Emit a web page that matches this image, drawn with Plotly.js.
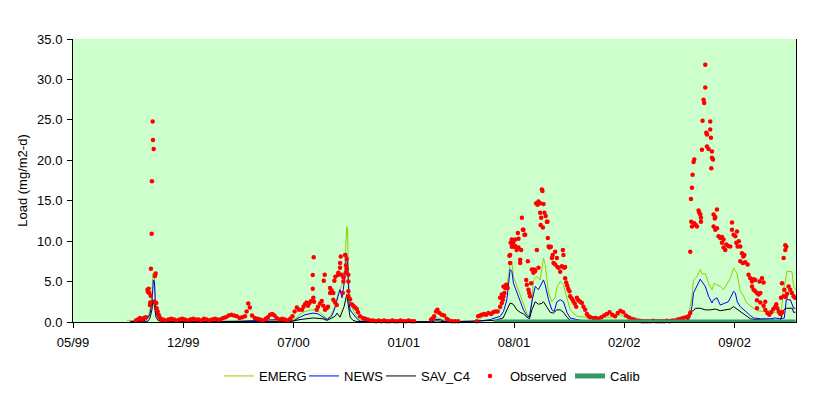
<!DOCTYPE html>
<html>
<head>
<meta charset="utf-8">
<script src="https://cdn.plot.ly/plotly-3.0.1.min.js"></script>
<style>html,body{margin:0;padding:0;background:#fff;}#chart{width:829px;height:396px;}</style>
</head>
<body>
<div id="chart"></div>
<script>
// Day offsets are counted from this date
const startDate = '1999-05-25';
const tickDays = [0, 202, 404, 606, 808, 1010, 1212];
const axisEndDay = 1324.5;

// [day, load mg/m2-d]
const emerg = [[98.8,0.2],[113.5,0.15],[131.8,0.3],[137.3,0.6],[141.0,1.5],[144.6,3.5],[146.4,6.0],[149.2,5.5],[151.0,2.5],[153.8,1.2],[157.4,0.5],[162.9,0.2],[177.6,0.05],[232.6,0.05],[305.9,0.1],[342.6,0.2],[360.9,0.25],[379.3,0.15],[397.6,0.2],
[403.1,0.3],[410.4,0.5],[415.9,1.0],[425.1,1.3],[436.1,1.5],[447.1,1.5],[456.2,1.0],[465.4,0.4],[472.7,0.8],[480.1,2.0],[485.6,3.5],[489.2,4.2],[492.9,4.7],[496.6,5.0],[499.3,8.0],[501.5,11.8],[503.0,11.5],[504.8,5.0],[507.6,2.75],[511.2,1.8],[516.7,1.0],[522.2,0.5],[529.5,0.2],[544.2,0.1],[599.2,0.05],[650.5,0.05],[659.7,0.4],[668.9,0.5],[678.0,0.3],[687.2,0.05],[727.5,0.05],
[742.2,0.1],[751.3,0.7],[767.8,1.1],[777.0,1.3],[782.5,1.5],[786.2,2.2],[789.8,3.0],[794.8,4.4],[800.8,7.1],[803.9,7.5],[806.9,5.6],[813.1,4.4],[819.2,3.2],[825.2,2.2],[831.4,1.1],[836.2,0.7],[840.6,2.5],[843.5,5.2],[849.8,5.6],[855.8,5.2],[858.9,6.5],[861.9,7.9],[865.0,7.1],[868.1,5.2],[871.0,3.6],[877.3,2.5],[883.3,3.0],[887.0,4.4],[892.5,5.0],[898.5,4.6],[904.8,3.0],[910.8,1.5],[923.1,0.7],[941.4,0.6],[965.8,0.6],[984.2,0.6],[993.3,0.6],[1002.5,0.9],[1011.6,0.6],[1030.0,0.3],[1057.5,0.1],[1112.4,0.05],[1124.7,0.1],
[1130.8,1.9],[1133.9,3.2],[1136.8,5.2],[1140.0,5.4],[1143.0,5.6],[1149.1,6.5],[1152.8,5.9],[1158.3,6.0],[1164.3,4.8],[1170.5,4.0],[1174.8,4.8],[1179.7,4.6],[1185.8,4.4],[1191.8,4.0],[1196.8,4.6],[1204.1,5.4],[1210.1,6.7],[1216.4,6.0],[1222.4,3.8],[1228.5,3.2],[1233.4,2.4],[1243.9,1.9],[1253.0,1.4],[1264.6,1.3],[1277.4,1.4],[1286.6,1.2],[1292.7,1.0],[1297.6,1.2],[1301.3,4.0],[1304.9,5.0],[1308.0,6.3],[1317.2,6.2],[1320.1,4.4],[1323.3,4.0]];

const news = [[104.3,0.05],[131.8,0.2],[137.3,0.5],[141.0,1.0],[144.6,2.5],[146.4,4.5],[147.4,5.2],[149.2,5.0],[151.0,2.0],[153.8,0.8],[157.4,0.3],[162.9,0.1],[232.6,0.05],[305.9,0.1],[351.7,0.25],[379.3,0.3],[397.6,0.2],
[403.1,0.1],[415.9,0.6],[425.1,0.9],[439.7,1.1],[448.9,1.0],[458.0,0.6],[465.4,0.3],[474.6,0.8],[480.1,1.8],[485.6,3.2],[489.2,4.0],[492.9,3.0],[496.6,4.5],[498.4,5.6],[501.1,8.5],[503.0,7.5],[505.7,2.5],[507.6,1.5],[513.0,1.0],[520.4,0.4],[525.9,0.1],[599.2,0.03],[654.2,0.03],[663.4,0.3],[672.5,0.3],[681.7,0.05],[736.7,0.03],
[764.2,0.3],[782.5,0.7],[788.6,1.3],[794.8,2.75],[800.8,6.5],[803.9,6.3],[806.9,4.8],[813.1,3.6],[819.2,2.5],[825.2,1.5],[831.4,0.8],[836.2,0.6],[840.6,2.5],[846.7,4.4],[852.7,4.0],[857.1,4.6],[861.9,5.2],[865.0,4.6],[871.0,2.8],[877.3,1.5],[881.5,1.3],[886.4,2.5],[892.5,2.75],[898.5,2.5],[904.8,1.2],[910.8,0.5],[929.1,0.2],[965.8,0.1],[1002.5,0.15],[1112.4,0.02],[1127.1,0.1],
[1130.8,1.0],[1133.9,1.9],[1136.8,3.6],[1140.0,4.0],[1149.1,5.3],[1158.3,4.4],[1164.3,3.2],[1170.5,2.35],[1172.9,2.7],[1179.7,3.0],[1185.8,2.1],[1193.1,2.3],[1200.4,2.5],[1205.9,3.2],[1210.1,3.8],[1213.3,3.6],[1216.9,2.5],[1222.4,1.9],[1231.6,1.3],[1240.8,0.8],[1246.8,0.5],[1259.1,0.4],[1277.4,0.4],[1286.6,0.5],[1295.7,0.4],[1303.1,0.5],[1306.7,2.75],[1314.1,2.75],[1320.1,1.7],[1323.3,1.7]];

const savC4 = [[106.1,0.02],[137.3,0.1],[141.0,0.5],[144.6,1.5],[146.4,2.75],[149.2,2.0],[152.0,0.6],[155.6,0.2],[162.9,0.05],[397.6,0.05],
[415.9,0.3],[439.7,0.5],[458.0,0.4],[465.4,0.2],[480.1,0.7],[483.7,1.1],[489.2,0.6],[496.6,1.9],[501.5,3.4],[503.9,2.5],[507.6,0.6],[513.0,0.2],[520.4,0.05],[654.2,0.02],[667.0,0.15],[681.7,0.02],
[773.3,0.2],[788.0,0.5],[794.8,1.5],[800.8,2.35],[806.3,2.2],[813.1,1.5],[819.2,1.2],[825.2,1.0],[831.4,0.6],[836.2,0.4],[840.6,1.5],[846.7,2.5],[852.7,2.2],[858.9,2.3],[861.9,2.5],[868.1,1.8],[874.2,1.2],[880.2,1.1],[886.4,1.5],[892.5,1.5],[898.5,1.2],[904.8,0.6],[910.8,0.2],[929.1,0.05],[1123.4,0.05],
[1127.1,0.5],[1130.8,1.3],[1136.8,1.4],[1140.0,1.7],[1149.1,1.7],[1158.3,1.5],[1167.4,1.5],[1176.6,1.6],[1185.8,1.4],[1194.9,1.5],[1204.1,1.6],[1210.1,1.9],[1216.4,1.6],[1225.5,1.1],[1234.7,0.7],[1240.8,0.4],[1249.9,0.3],[1277.4,0.2],[1295.7,0.2],[1301.8,1.5],[1306.7,1.7],[1317.7,1.7],[1320.1,1.2],[1323.3,1.2]];

const observed = [[115.3,0.2],[119.0,0.3],[122.6,0.5],[126.3,0.3],[130.0,0.5],[133.6,0.6],[136.4,4.0],[137.3,3.7],[138.6,4.1],[139.7,3.6],[141.0,2.1],[141.5,2.4],[142.3,3.25],[142.8,6.6],[144.1,10.9],[144.6,17.4],[145.9,24.8],[146.5,22.5],[147.8,21.4],[149.2,2.5],[150.1,5.7],[151.4,6.0],[152.5,2.35],[153.2,1.7],[155.1,1.3],[156.9,0.9],[158.8,0.6],[161.1,0.3],
[165,0.3],[170,0.2],[175,0.3],[180,0.4],[185,0.3],[190,0.2],[195,0.3],[200,0.4],[205,0.3],[210,0.2],[215,0.3],[220,0.4],[225,0.3],[230,0.3],[235,0.2],[240,0.4],[245,0.3],[250,0.2],[255,0.3],[260,0.4],[265,0.3],[270,0.3],[275,0.5],[280,0.6],[285,0.8],[290,0.9],[295,0.8],[300,0.7],[305,0.5],[310,0.6],[315,0.7],[318,1.3],[321,2.3],[324,1.8],[328,0.8],[333,0.5],[338,0.4],[343,0.3],[348,0.2],[353,0.4],[357,0.6],[361,0.9],[365,1.0],[369,0.8],[373,0.5],[378,0.3],[383,0.4],[388,0.3],[393,0.2],[398,0.4],[402,0.7],[406,1.3],[410,1.8],[414,1.5],
[419.6,1.5],[422.3,1.9],[425.1,2.2],[427.8,2.4],[430.6,2.0],[433.3,2.35],[436.1,2.6],[439.2,4.1],[439.2,5.8],[441.0,8.0],[440.3,3.0],[441.6,2.5],[446.5,1.5],[448.9,1.9],[452.6,2.3],[455.7,2.6],[458.6,2.0],[459.4,5.1],[461.2,5.85],[461.7,1.5],[464.8,1.7],[467.2,1.9],[470.9,3.6],[470.9,4.2],[474.0,3.9],[476.9,3.6],[476.9,2.75],[478.8,5.1],[480.1,2.4],[480.6,5.6],[483.2,2.1],[485.6,5.8],[486.1,6.1],[489.2,6.7],[489.2,7.3],[490.5,8.1],[492.3,5.85],[494.2,3.6],[495.3,5.0],[495.3,5.5],[498.4,8.3],[499.7,6.1],[500.2,7.0],[501.5,7.8],[501.5,6.6],[504.4,5.85],[504.4,5.0],[504.4,3.8],[504.4,3.2],[507.6,2.8],[510.7,2.2],[513.6,2.0],[516.7,1.8],[519.8,1.6],[522.2,1.2],[525.9,0.7],[531.4,0.5],
[535,0.4],[540,0.3],[545,0.2],[550,0.2],[555,0.1],[560,0.2],[565,0.1],[570,0.2],[575,0.1],[580,0.1],[585,0.2],[590,0.1],[595,0.1],[600,0.2],[605,0.1],[610,0.1],[615,0.2],[620,0.1],[625,0.1],
[656.0,0.3],[659.7,0.5],[661.5,0.7],[665.2,1.3],[667.6,1.5],[671.2,1.1],[675.6,0.9],[679.9,0.8],[684.8,0.4],[689.0,0.2],[694.5,0.1],[700.0,0.1],[705.5,0.1],
[739.8,0.1],[742.2,0.7],[745.8,0.8],[749.0,0.9],[753.2,1.0],[756.8,0.9],[761.1,1.1],[766.0,1.0],[769.7,1.2],[773.3,1.3],[777.9,1.3],[782.5,1.9],[782.5,3.0],[785.6,2.35],[785.6,3.4],[787.5,2.75],[788.6,3.2],[788.6,4.4],[790.4,3.6],[791.7,4.2],[793.6,4.6],[794.8,4.4],
[796.3,4.2],[799.5,8.2],[800.8,7.3],[800.8,8.3],[801.7,9.8],[803.9,9.3],[803.9,10.2],[805.4,9.5],[806.9,9.9],[808.2,9.3],[810.0,10.2],[810.0,9.4],[812.7,8.9],[815.0,11.0],[816.1,9.2],[816.1,10.3],[819.2,7.3],[819.2,7.7],[821.0,8.9],[822.3,12.9],[824.1,11.4],[825.2,11.4],[827.0,10.8],[828.3,10.8],[830.2,5.2],[831.4,4.6],[833.3,7.5],[834.4,4.0],[835.7,3.6],[837.5,3.2],[839.3,4.8],[840.6,6.5],[843.5,6.1],[844.8,6.5],[846.7,6.3],[848.5,14.7],[849.8,8.9],[850.9,14.5],[852.7,14.9],[852.7,6.7],[855.8,14.7],[855.8,13.5],[856.7,12.0],[857.7,12.9],[858.9,16.4],[860.0,16.2],[860.8,11.7],[861.9,14.6],[863.7,13.5],[865.9,13.1],[868.1,12.4],[869.2,12.4],[869.9,10.4],[871.4,9.35],[872.9,9.2],[875.4,9.3],[877.3,7.9],[878.7,8.3],[880.2,7.3],[883.3,8.7],[883.3,7.1],[886.4,7.9],[887.5,6.8],[889.7,6.7],[892.5,6.2],[895.6,6.9],[897.4,8.9],[898.5,8.3],[899.8,6.7],[901.6,6.8],[901.6,5.4],[903.5,4.9],[905.3,4.5],[907.1,4.1],[909.5,3.8],[910.8,3.2],[913.6,2.9],[916.3,2.6],[919.1,2.3],[921.8,1.9],[923.1,3.0],[926.0,2.7],[929.1,2.5],[932.3,2.35],[935.2,1.9],[938.3,1.5],[941.4,1.0],[944.7,0.7],[947.5,0.6],[953.5,0.5],
[958,0.5],[963,0.4],[968,0.6],[973,0.8],[978,1.0],[983,1.2],[988,0.9],[993,0.7],[998,1.1],[1003,1.4],[1008,1.2],[1013,0.8],[1018,0.6],[1023,0.4],[1028,0.3],[1033,0.2],[1038,0.15],[1043,0.1],[1048,0.1],[1053,0.1],[1058,0.1],[1063,0.15],[1068,0.1],[1073,0.1],[1078,0.1],[1083,0.1],[1088,0.15],[1093,0.1],[1098,0.2],[1103,0.2],[1108,0.3],[1113,0.4],[1118,0.5],[1123,0.6],
[1127.7,0.7],[1130.8,1.1],[1130.8,8.7],[1132.1,15.2],[1132.6,12.4],[1133.9,16.6],[1133.9,11.8],[1135.0,18.2],[1136.8,19.8],[1138.1,20.1],[1138.1,12.2],[1140.8,12.0],[1143.0,11.8],[1146.0,13.8],[1147.3,13.5],[1149.1,13.3],[1150.4,12.9],[1150.4,12.4],[1152.2,21.3],[1153.3,24.9],[1155.2,27.5],[1156.4,27.1],[1158.3,29.0],[1158.3,31.8],[1160.1,23.4],[1161.4,23.2],[1161.4,21.7],[1164.3,21.4],[1167.4,24.8],[1167.4,23.8],[1168.7,22.8],[1169.3,19.0],[1170.5,20.3],[1170.5,21.1],[1172.4,20.1],[1173.5,13.3],[1173.5,11.8],[1175.7,12.8],[1176.6,11.4],[1176.6,13.0],[1179.7,13.9],[1179.7,11.6],[1182.6,10.6],[1185.8,10.4],[1188.9,10.5],[1188.9,9.8],[1191.8,10.2],[1191.8,9.2],[1194.9,8.9],[1196.8,9.6],[1200.4,9.4],[1204.1,9.35],[1207.2,12.3],[1207.2,11.4],[1210.1,10.8],[1213.3,10.6],[1215.1,9.8],[1216.4,11.2],[1217.5,9.35],[1219.7,10.0],[1222.4,9.35],[1222.4,7.5],[1225.5,8.5],[1227.0,7.3],[1227.9,8.1],[1229.8,8.3],[1231.6,7.4],[1235.8,7.1],[1237.6,5.85],[1240.8,5.4],[1243.9,5.0],[1243.9,4.4],[1246.8,5.3],[1246.8,4.0],[1249.9,5.2],[1249.9,3.8],[1253.0,2.7],[1253.0,1.7],[1253.0,3.6],[1256.0,3.4],[1257.8,5.0],[1259.1,2.4],[1259.1,3.6],[1262.2,5.4],[1265.1,4.9],[1265.1,2.0],[1268.2,2.5],[1268.2,1.5],[1271.9,1.1],[1275.6,0.9],[1279.2,1.2],[1282.9,1.6],[1286.6,1.9],[1288.4,2.2],[1290.2,1.7],[1293.0,1.3],[1295.7,1.0],[1297.0,3.0],[1298.9,4.8],[1299.4,1.2],[1301.8,7.9],[1301.8,3.2],[1303.1,4.0],[1304.9,8.9],[1304.9,9.5],[1305.8,3.1],[1306.7,9.3],[1308.0,3.5],[1310.9,4.4],[1314.1,4.0],[1316.8,3.6],[1320.1,3.2],[1322.3,3.0]];

const calib = [[770,0],[1323.5,0]];

const base = Date.UTC(1999, 4, 25);
function toDate(d) {
  return new Date(base + d * 86400000).toISOString().slice(0, 19).replace('T', ' ');
}
const xs = arr => arr.map(p => toDate(p[0]));
const ys = arr => arr.map(p => p[1]);

const FONT = 'Arial, "Liberation Sans", sans-serif';
const W = 829;

const traces = [
  {x: xs(emerg), y: ys(emerg), name: 'EMERG', type: 'scatter', mode: 'lines', line: {color: '#99CC00', width: 1}, legend: 'legend'},
  {x: xs(news), y: ys(news), name: 'NEWS', type: 'scatter', mode: 'lines', line: {color: '#0000FF', width: 1}, legend: 'legend2'},
  {x: xs(savC4), y: ys(savC4), name: 'SAV_C4', type: 'scatter', mode: 'lines', line: {color: '#000000', width: 1}, legend: 'legend3'},
  {x: xs(observed), y: ys(observed), name: 'Observed', type: 'scatter', mode: 'markers', marker: {color: '#FF0000', size: 4.5}, cliponaxis: false, legend: 'legend4'},
  {x: xs(calib), y: ys(calib), name: 'Calib', type: 'scatter', mode: 'lines', line: {color: '#339966', width: 5}, legend: 'legend5'}
];

function leg(px) {
  return {xref: 'container', yref: 'container', x: px / W, xanchor: 'left', y: 20 / 396, yanchor: 'middle',
          orientation: 'h', font: {family: FONT, size: 13, color: '#000'}, bgcolor: 'rgba(0,0,0,0)', borderwidth: 0};
}

const layout = {
  width: 829, height: 396,
  margin: {l: 73, r: 33, t: 39, b: 74},
  paper_bgcolor: '#FFFFFF',
  plot_bgcolor: '#CCFFCC',
  font: {family: FONT, size: 13, color: '#000000'},
  showlegend: true,
  legend: leg(219), legend2: leg(304), legend3: leg(381), legend4: leg(470), legend5: leg(570),
  xaxis: {
    type: 'date',
    range: [toDate(0), toDate(axisEndDay)],
    tickvals: tickDays.map(toDate),
    tickformat: '%m/%y',
    ticks: 'outside', ticklen: 5, tickcolor: '#000', tickwidth: 1,
    ticklabelstandoff: 3,
    showline: true, linecolor: '#000', linewidth: 1,
    showgrid: false, zeroline: false,
    tickfont: {family: FONT, size: 13, color: '#000'}
  },
  yaxis: {
    range: [0, 35], dtick: 5, tick0: 0, tickformat: '.1f',
    ticks: 'outside', ticklen: 5, tickcolor: '#000', tickwidth: 1,
    ticklabelstandoff: 2,
    showline: true, linecolor: '#000', linewidth: 1, mirror: true,
    showgrid: false, zeroline: false,
    tickfont: {family: FONT, size: 13, color: '#000'},
    title: {text: 'Load (mg/m2-d)', font: {family: FONT, size: 13, color: '#000'}, standoff: 6}
  }
};

Plotly.newPlot('chart', traces, layout, {displayModeBar: false, staticPlot: true});
</script>
</body>
</html>
